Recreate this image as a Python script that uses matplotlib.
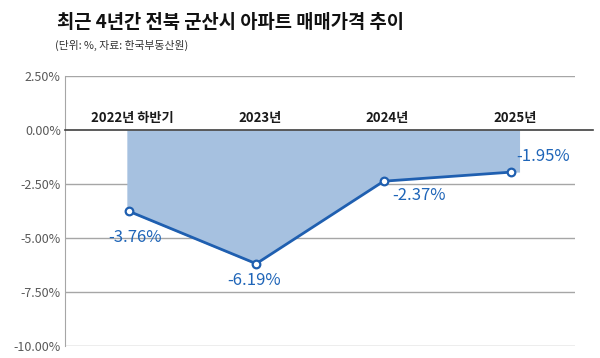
import matplotlib
matplotlib.use("Agg")
import matplotlib.pyplot as plt
import numpy as np

plt.rcParams['font.family'] = ['Noto Sans CJK KR', 'DejaVu Sans']

title = "최근 4년간 전북 군산시 아파트 매매가격 추이"
subtitle = "(단위: %, 자료: 한국부동산원)"
categories = ["2022년 하반기", "2023년", "2024년", "2025년"]
values = [-3.76, -6.19, -2.37, -1.95]
yticks = [2.5, 0.0, -2.5, -5.0, -7.5, -10.0]

line_color = "#1F5FB0"
fill_color = "#A6C1E0"
label_color = "#1F65B8"

fig = plt.figure(figsize=(6.0, 3.58), dpi=100)
ax = fig.add_axes([65/600, 1-346/358, 510/600, 270/358])

x = np.arange(len(categories))
# area fill (slightly extended on the right like the source)
fx = np.concatenate([x, [x[-1] + 0.08]])
fy = np.concatenate([values, [values[-1]]])
ax.fill_between(fx - 0.015, fy, 0, color=fill_color, lw=0, zorder=1)
ax.plot(x, values, color=line_color, lw=2, zorder=3,
        marker='o', ms=5.5, mfc='white', mec=line_color, mew=1.6)

ax.set_xlim(-0.5, 3.5)
ax.set_ylim(-10, 2.5)
ax.set_yticks(yticks)
ax.set_yticklabels([f"{v:.2f}%" for v in yticks], color="#595959", fontsize=9)
ax.tick_params(axis='y', length=0, pad=3)
ax.set_xticks([])
for v in yticks:
    if v != 0:
        ax.axhline(v, color="#A6A6A6", lw=1, zorder=0)
ax.plot([-0.5, 3.64], [0, 0], color="#404040", lw=1.2, clip_on=False, zorder=4)

for s in ['top', 'right', 'bottom']:
    ax.spines[s].set_visible(False)
ax.spines['left'].set_color("#A6A6A6")

for xi, c in zip(x, categories):
    ax.text(xi + 0.03, 0.55, c, ha='center', va='center', fontsize=9.5,
            fontweight='bold', color="#1a1a1a")

offsets = [(0.05, -1.2), (-0.02, -0.78), (0.28, -0.65), (0.25, 0.74)]
for xi, v, (dx, dy) in zip(x, values, offsets):
    ax.text(xi + dx, v + dy, f"{v:.2f}%", ha='center', va='center',
            fontsize=12, color=label_color)

fig.text(57/600, 1-23/358, title, fontsize=13.5, fontweight='bold',
         ha='left', va='center', color="#111111")
fig.text(55/600, 1-45/358, subtitle, fontsize=7.8, ha='left', va='center',
         color="#333333")

fig.savefig("out.png", dpi=100)
